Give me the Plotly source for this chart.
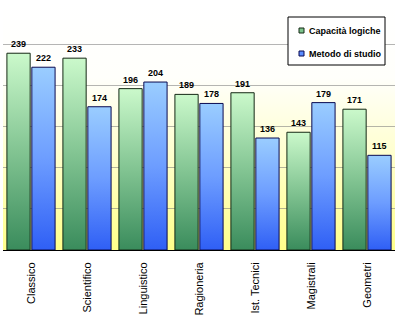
import base64
import plotly.graph_objects as go

categories = ["Classico", "Scientifico", "Linguistico", "Ragioneria", "Ist. Tecnici", "Magistrali", "Geometri"]
capacita_logiche = [239, 233, 196, 189, 191, 143, 171]
metodo_di_studio = [222, 174, 204, 178, 136, 179, 115]
series_names = ["Capacità logiche", "Metodo di studio"]

FONT = "Liberation Sans, Arial, sans-serif"
green_scale = [[0, "#3a8c5c"], [0.5, "#82c492"], [1, "#cbf9cb"]]
blue_scale = [[0, "#2f5ff5"], [0.5, "#6d9dff"], [1, "#9acdff"]]
green_line = "#142814"
blue_line = "#0a0a50"

fig = go.Figure()

# plot-area background gradient (white -> yellow)
svg = ('<svg xmlns="http://www.w3.org/2000/svg" width="100" height="100" preserveAspectRatio="none">'
       '<defs><linearGradient id="g" x1="0" y1="0" x2="0" y2="1">'
       '<stop offset="0" stop-color="#ffffff"/><stop offset="0.3" stop-color="#fffffb"/>'
       '<stop offset="0.6" stop-color="#ffffd0"/><stop offset="1" stop-color="#ffff8a"/>'
       '</linearGradient></defs><rect width="100" height="100" fill="url(#g)"/></svg>')
uri = "data:image/svg+xml;base64," + base64.b64encode(svg.encode()).decode()
fig.add_layout_image(dict(source=uri, xref="paper", yref="paper", x=0, y=1, sizex=1, sizey=1,
                          sizing="stretch", xanchor="left", yanchor="top", layer="below"))

W = 0.415
G = 0.015
annotations = []
for i, cat in enumerate(categories):
    for vals, off, scale, lc in ((capacita_logiche, -1, green_scale, green_line),
                                 (metodo_di_studio, 1, blue_scale, blue_line)):
        v = vals[i]
        if off < 0:
            x0, x1 = i - G - W, i - G
        else:
            x0, x1 = i + G, i + G + W
        fig.add_trace(go.Scatter(
            x=[x0, x0, x1, x1, x0], y=[0, v, v, 0, 0], mode="lines", fill="toself",
            fillgradient=dict(type="vertical", colorscale=scale),
            line=dict(color=lc, width=1), showlegend=False, hoverinfo="skip"))
        annotations.append(dict(x=(x0 + x1) / 2, y=v, xref="x", yref="y", text="<b>%d</b>" % v,
                                showarrow=False, yanchor="bottom", yshift=2,
                                font=dict(family=FONT, size=9, color="black")))

# legend (drawn manually to match the original compact box)
L, R, T, B = 3, 395, 3, 250
def px(xp):
    return (xp - L) / (R - L)
def py(yp):
    return (B - yp) / (B - T)

shapes = [dict(type="rect", xref="paper", yref="paper", x0=px(288), x1=px(385), y0=py(65), y1=py(17),
               fillcolor="white", line=dict(color="black", width=1), layer="above")]
for k, (name, col, lc, yc) in enumerate(((series_names[0], "#7cc48c", green_line, 30.5),
                                         (series_names[1], "#5a8cff", blue_line, 53.5))):
    shapes.append(dict(type="rect", xref="paper", yref="paper", x0=px(299), x1=px(304),
                       y0=py(yc + 2.5), y1=py(yc - 2.5), fillcolor=col,
                       line=dict(color=lc, width=1), layer="above"))
    annotations.append(dict(x=px(306.5), y=py(yc), xref="paper", yref="paper", text="<b>%s</b>" % name,
                            showarrow=False, xanchor="left", yanchor="middle",
                            font=dict(family=FONT, size=9, color="black")))

fig.update_layout(
    width=400, height=325,
    margin=dict(l=L, r=400 - R, t=T, b=325 - B),
    paper_bgcolor="white", plot_bgcolor="rgba(0,0,0,0)",
    showlegend=False,
    annotations=annotations, shapes=shapes,
    xaxis=dict(range=[-0.5, 6.5], tickmode="array", tickvals=list(range(len(categories))),
               ticktext=categories, tickangle=-90, showgrid=False, zeroline=False,
               showline=True, linecolor="black", linewidth=1,
               ticks="outside", ticklen=7, tickcolor="rgba(0,0,0,0)",
               tickfont=dict(family=FONT, size=11, color="black"), fixedrange=True),
    yaxis=dict(range=[0, 300], dtick=50, tick0=0, showticklabels=False, showgrid=True,
               gridcolor="rgba(120,120,120,0.55)", gridwidth=1, zeroline=False, showline=False,
               fixedrange=True),
)

fig.write_html("out.html")
